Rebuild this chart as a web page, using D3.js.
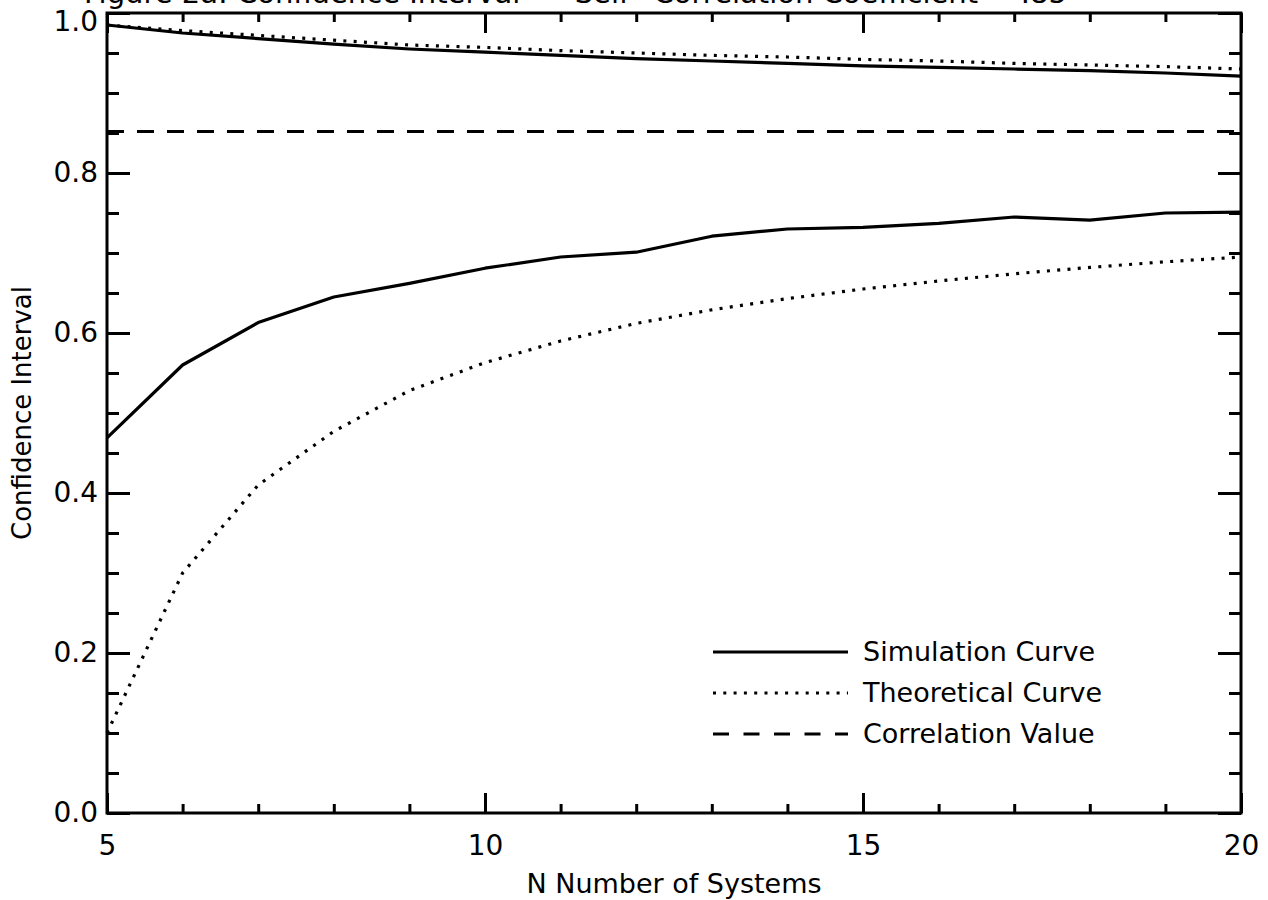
<!DOCTYPE html>
<html>
<head>
<meta charset="utf-8">
<script src="https://cdn.jsdelivr.net/npm/d3@7"></script>
<style>
  html, body { margin: 0; padding: 0; background: #fff; }
  svg { display: block; }
  text { font-family: "DejaVu Sans", sans-serif; fill: #000; }
</style>
</head>
<body>
<svg id="chart" width="1268" height="900"></svg>
<script>
// ---- data ----
const nValues   = [5, 6, 7, 8, 9, 10, 11, 12, 13, 14, 15, 16, 17, 18, 19, 20];
const simUpper  = [0.985, 0.975, 0.968, 0.961, 0.955, 0.951, 0.947, 0.943, 0.940, 0.937, 0.934, 0.932, 0.930, 0.928, 0.925, 0.921];
const simLower  = [0.469, 0.560, 0.613, 0.645, 0.662, 0.681, 0.695, 0.701, 0.721, 0.730, 0.732, 0.737, 0.745, 0.741, 0.750, 0.751];
const theoUpper = [0.985, 0.978, 0.972, 0.966, 0.960, 0.957, 0.953, 0.950, 0.947, 0.945, 0.942, 0.940, 0.937, 0.935, 0.933, 0.930];
const theoLower = [0.100, 0.300, 0.410, 0.477, 0.528, 0.563, 0.590, 0.612, 0.629, 0.643, 0.655, 0.665, 0.674, 0.682, 0.689, 0.695];
const corrValue = 0.852;
const xMajorTicks = [5, 10, 15, 20];
const xMinorTicks = d3.range(5, 21, 1);
const yMajorTicks = [0, 0.2, 0.4, 0.6, 0.8, 1.0];
const yMinorTicks = d3.range(0, 1.0001, 0.05);
const legendLabels = ["Simulation Curve", "Theoretical Curve", "Correlation Value"];
const titleText = "Figure 2a: Confidence Interval -- \u201CSelf\u201D Correlation Coefficient = .85";
const xTitle = "N Number of Systems";
const yTitle = "Confidence Interval";

// ---- layout ----
const L = 107, R = 1241, T = 13, B = 813;
const svg = d3.select("#chart");
const x = d3.scaleLinear().domain([5, 20]).range([L, R]);
const y = d3.scaleLinear().domain([0, 1]).range([B, T]);

const fs = 27;

function styleAxis(g, showLabels) {
  g.select(".domain").remove();
  g.selectAll(".tick line").attr("stroke", "#000").attr("stroke-width", 3);
  g.selectAll(".tick text")
    .attr("font-family", "DejaVu Sans, sans-serif")
    .attr("font-size", 28)
    .attr("fill", "#000")
    .style("display", showLabels ? null : "none");
  g.attr("font-family", null).attr("font-size", null);
}

// bottom
svg.append("g").attr("transform", `translate(0,${B})`)
  .call(d3.axisBottom(x).tickValues(xMinorTicks).tickSizeInner(-9).tickSizeOuter(0).tickFormat(""))
  .call(g => styleAxis(g, false));
svg.append("g").attr("transform", `translate(0,${B})`)
  .call(d3.axisBottom(x).tickValues(xMajorTicks).tickSizeInner(-20).tickSizeOuter(0).tickPadding(22).tickFormat(d3.format("d")))
  .call(g => styleAxis(g, true));
// top
svg.append("g").attr("transform", `translate(0,${T})`)
  .call(d3.axisTop(x).tickValues(xMinorTicks).tickSizeInner(-9).tickSizeOuter(0).tickFormat(""))
  .call(g => styleAxis(g, false));
svg.append("g").attr("transform", `translate(0,${T})`)
  .call(d3.axisTop(x).tickValues(xMajorTicks).tickSizeInner(-20).tickSizeOuter(0).tickFormat(""))
  .call(g => styleAxis(g, false));
// left
svg.append("g").attr("transform", `translate(${L},0)`)
  .call(d3.axisLeft(y).tickValues(yMinorTicks).tickSizeInner(-12).tickSizeOuter(0).tickFormat(""))
  .call(g => styleAxis(g, false));
svg.append("g").attr("transform", `translate(${L},0)`)
  .call(d3.axisLeft(y).tickValues(yMajorTicks).tickSizeInner(-23).tickSizeOuter(0).tickPadding(9).tickFormat(d3.format(".1f")))
  .call(g => styleAxis(g, true))
  .call(g => g.selectAll(".tick text").filter(d => d === 1).attr("dy", "0.62em"));
// right
svg.append("g").attr("transform", `translate(${R},0)`)
  .call(d3.axisRight(y).tickValues(yMinorTicks).tickSizeInner(-12).tickSizeOuter(0).tickFormat(""))
  .call(g => styleAxis(g, false));
svg.append("g").attr("transform", `translate(${R},0)`)
  .call(d3.axisRight(y).tickValues(yMajorTicks).tickSizeInner(-23).tickSizeOuter(0).tickFormat(""))
  .call(g => styleAxis(g, false));

// frame
svg.append("rect")
  .attr("x", L).attr("y", T).attr("width", R - L).attr("height", B - T)
  .attr("fill", "none").attr("stroke", "#000").attr("stroke-width", 3);

// lines
const line = d3.line().x((d, i) => x(nValues[i])).y(d => y(d));
const solidStyle = { width: 3.2, dash: null, cap: "butt" };
const dotStyle = { width: 3.2, dash: "3,7.3", cap: "butt" };
const dashStyle = { width: 3, dash: "17,13", cap: "butt" };

function drawSeries(data, st) {
  svg.append("path").datum(data)
    .attr("d", line)
    .attr("fill", "none").attr("stroke", "#000")
    .attr("stroke-width", st.width)
    .attr("stroke-linejoin", "round")
    .attr("stroke-linecap", st.cap)
    .attr("stroke-dasharray", st.dash);
}
drawSeries(simUpper, solidStyle);
drawSeries(simLower, solidStyle);
drawSeries(theoUpper, dotStyle);
drawSeries(theoLower, dotStyle);
drawSeries(nValues.map(() => corrValue), dashStyle);

// legend
const legendStyles = [solidStyle, dotStyle, dashStyle];
const legY = [652, 693, 734];
legendLabels.forEach((lab, i) => {
  svg.append("line")
    .attr("x1", 713).attr("x2", 848).attr("y1", legY[i]).attr("y2", legY[i])
    .attr("stroke", "#000").attr("stroke-width", legendStyles[i].width)
    .attr("stroke-dasharray", i === 2 ? "16,14.5" : legendStyles[i].dash);
  svg.append("text")
    .attr("x", 863).attr("y", legY[i]).attr("dy", "0.35em")
    .attr("font-size", fs).text(lab);
});

// titles
svg.append("text")
  .attr("x", x(12.5)).attr("y", 893)
  .attr("text-anchor", "middle").attr("font-size", fs).text(xTitle);
svg.append("text")
  .attr("transform", `translate(31,${y(0.5)}) rotate(-90)`)
  .attr("text-anchor", "middle").attr("font-size", 26).text(yTitle);
svg.append("text")
  .attr("x", 84).attr("y", 3)
  .attr("font-size", 29).text(titleText);
</script>
</body>
</html>
